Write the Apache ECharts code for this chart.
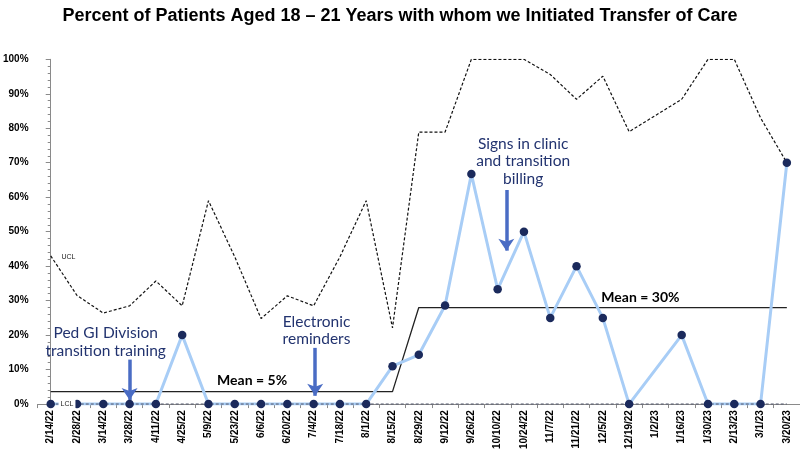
<!DOCTYPE html>
<html>
<head>
<meta charset="utf-8">
<script src="https://cdn.jsdelivr.net/npm/echarts@6/dist/echarts.min.js"></script>
<style>
html,body{margin:0;padding:0;background:#fff;}
#chart{width:800px;height:452px;}
</style>
</head>
<body>
<div id="chart"></div>
<script>
var titleText = 'Percent of Patients Aged 18 \u2013 21 Years with whom we Initiated Transfer of Care';
var categories = ['2/14/22','2/28/22','3/14/22','3/28/22','4/11/22','4/25/22','5/9/22','5/23/22','6/6/22','6/20/22','7/4/22','7/18/22','8/1/22','8/15/22','8/29/22','9/12/22','9/26/22','10/10/22','10/24/22','11/7/22','11/21/22','12/5/22','12/19/22','1/2/23','1/16/23','1/30/23','2/13/23','3/1/23','3/20/23'];
var percentValues = [0,0,0,0,0,0.20,0,0,0,0,0,0,0,0.11,0.143,0.286,0.667,0.333,0.50,0.25,0.40,0.25,0,null,0.20,0,0,0,0.70];
var uclValues = [0.43,0.315,0.264,0.285,0.357,0.285,0.59,0.427,0.248,0.314,0.285,0.427,0.59,0.221,0.789,0.789,1,1,1,0.956,0.884,0.951,0.79,null,0.884,1,1,0.83,0.70];
var lclValues = [0,0,0,0,0,0,0,0,0,0,0,0,0,0,0,0,0,0,0,0,0,0,0,0,0,0,0,0,0];
var meanValues = [0.036,0.036,0.036,0.036,0.036,0.036,0.036,0.036,0.036,0.036,0.036,0.036,0.036,0.036,0.28,0.28,0.28,0.28,0.28,0.28,0.28,0.28,0.28,0.28,0.28,0.28,0.28,0.28,0.28];
var yTicks = [0,0.1,0.2,0.3,0.4,0.5,0.6,0.7,0.8,0.9,1.0];
// annotations: [x index, y value, text]
var annotations = [
  [2.09, 0.180, 'Ped GI Division\ntransition training'],
  [10.11, 0.213, 'Electronic\nreminders'],
  [17.97, 0.704, 'Signs in clinic\nand transition\nbilling']
];
var arrows = [
  [3, 0.129, 0.012],
  [10.06, 0.163, 0.024],
  [17.33, 0.621, 0.445]
];
var meanLabels = [
  [7.66, 0.069, 'Mean = 5%'],
  [22.43, 0.31, 'Mean = 30%']
];
var limitLabels = [
  [0.33, 0.427, 'UCL'],
  [0.3, 0.0, 'LCL']
];

var chart = echarts.init(document.getElementById('chart'));
var navy = '#1b2a5c';
var annBlue = '#22336f';
var arrowBlue = '#4a6cc4';

function textSeries(name, data, labelStyle, z) {
  return {
    name: name, type: 'scatter', xAxisIndex: 1, z: z, symbolSize: 0.01,
    itemStyle: {color: 'rgba(0,0,0,0)', opacity: 1},
    label: Object.assign({show: true, position: 'inside', verticalAlign: 'middle',
      formatter: function (p) { return p.data[2]; }}, labelStyle),
    emphasis: {disabled: true},
    data: data
  };
}

var option = {
  animation: false,
  backgroundColor: '#ffffff',
  title: {
    text: titleText,
    left: 'center',
    top: 2,
    textStyle: {fontFamily: 'Liberation Sans', fontWeight: 'bold', fontSize: 18, color: '#000'}
  },
  grid: {left: 34.5, right: 0, top: 59.3, bottom: 45.4, containLabel: false},
  xAxis: [{
    type: 'category',
    data: categories,
    boundaryGap: true,
    axisLine: {lineStyle: {color: '#8a8a8a', width: 1}},
    axisTick: {show: true, alignWithLabel: false, length: 4, lineStyle: {color: '#8a8a8a'}},
    axisLabel: {rotate: 90, interval: 0, fontFamily: 'Liberation Sans', fontWeight: 'bold', fontSize: 10, color: '#000', margin: 6},
    splitLine: {show: false}
  }, {
    type: 'value', min: -0.5, max: 28.5, show: false
  }],
  yAxis: {
    type: 'value',
    min: yTicks[0],
    max: yTicks[yTicks.length - 1],
    interval: 0.1,
    axisLine: {show: true, lineStyle: {color: '#8a8a8a'}},
    axisTick: {show: true, length: 5, lineStyle: {color: '#8a8a8a'}},
    minorTick: {show: true, splitNumber: 5, length: 3, lineStyle: {color: '#8a8a8a'}},
    splitLine: {show: false},
    axisLabel: {
      formatter: function (v) { return Math.round(v * 100) + '%'; },
      fontFamily: 'Liberation Sans', fontWeight: 'bold', fontSize: 10, color: '#000', margin: 9
    }
  },
  series: [
    {
      name: 'UCL', type: 'line', data: uclValues, connectNulls: true,
      showSymbol: false, symbol: 'none', z: 2,
      lineStyle: {color: '#111', width: 1.2, type: [3, 2]}
    },
    {
      name: 'Mean', type: 'line', data: meanValues, showSymbol: false, symbol: 'none', z: 2,
      lineStyle: {color: '#222', width: 1.3}
    },
    {
      name: 'Percent', type: 'line', data: percentValues, connectNulls: true,
      showSymbol: false, symbol: 'none', z: 3,
      lineStyle: {color: '#a8cdf6', width: 3}
    },
    {
      name: 'LCL', type: 'line', data: lclValues, showSymbol: false, symbol: 'none', z: 4,
      lineStyle: {color: '#555a6e', width: 1.2, type: [3, 2]}
    },
    {
      name: 'Points', type: 'scatter', data: percentValues, z: 5,
      symbol: 'circle', symbolSize: 8.5, itemStyle: {color: navy, opacity: 1}
    },
    {
      name: 'Arrows', type: 'scatter', xAxisIndex: 1, data: [], z: 6,
      markLine: {
        silent: true, symbol: ['none', 'arrow'], symbolSize: [12, 12],
        label: {show: false},
        lineStyle: {color: arrowBlue, width: 3.5, type: 'solid', opacity: 1},
        data: arrows.map(function (a) { return [{coord: [a[0], a[1]]}, {coord: [a[0], a[2]]}]; })
      }
    },
    textSeries('Annotations', annotations,
      {align: 'center', fontFamily: 'Lato', fontSize: 15.5, lineHeight: 17.5, color: annBlue}, 7),
    textSeries('MeanLabels', meanLabels,
      {align: 'center', fontFamily: 'Lato', fontWeight: 'bold', fontSize: 14, color: '#000'}, 7),
    textSeries('LimitLabels', limitLabels,
      {align: 'left', fontFamily: 'Liberation Sans', fontSize: 7, color: '#222', backgroundColor: '#fff', padding: [1, 2]}, 8)
  ]
};
chart.setOption(option);
</script>
</body>
</html>
